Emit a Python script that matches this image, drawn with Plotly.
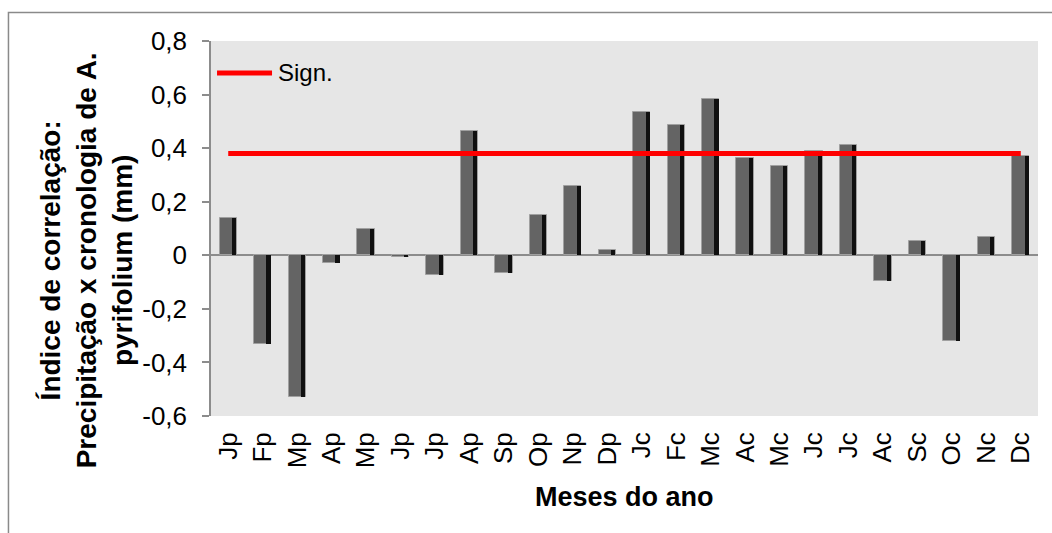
import plotly.graph_objects as go

# Monthly correlation (precipitation x A. pyrifolium chronology);
# "p" = previous year, "c" = current year
months = ["Jp", "Fp", "Mp", "Ap", "Mp", "Jp", "Jp", "Ap", "Sp", "Op", "Np", "Dp",
          "Jc", "Fc", "Mc", "Ac", "Mc", "Jc", "Jc", "Ac", "Sc", "Oc", "Nc", "Dc"]
correlation = [0.14, -0.33, -0.53, -0.03, 0.10, -0.005, -0.075, 0.465, -0.065, 0.15, 0.26, 0.02,
               0.535, 0.485, 0.585, 0.365, 0.335, 0.39, 0.41, -0.095, 0.055, -0.32, 0.07, 0.37]
sign_level = 0.38
sign_line = [sign_level] * len(months)

y_ticks = [-0.6, -0.4, -0.2, 0, 0.2, 0.4, 0.6, 0.8]
y_tick_text = ["-0,6", "-0,4", "-0,2", "0", "0,2", "0,4", "0,6", "0,8"]

FONT = "Liberation Sans, Arial, sans-serif"
AXIS_GREY = "#8c8c8c"
pos = list(range(len(months)))

fig = go.Figure()

# bar body
fig.add_trace(go.Bar(
    x=pos, y=correlation, width=0.5, offset=-0.25,
    marker=dict(color="#646464", line=dict(color="#a0a0a0", width=1)),
    showlegend=False, hoverinfo="skip",
))
# dark right-hand bevel strip of each bar
fig.add_trace(go.Bar(
    x=pos, y=correlation, width=0.12, offset=0.11,
    marker=dict(color="#101010", line=dict(width=0)),
    showlegend=False, hoverinfo="skip",
))
# significance threshold
fig.add_trace(go.Scatter(
    x=pos, y=sign_line, mode="lines", name="Sign.",
    line=dict(color="#ff0000", width=5),
    showlegend=False, hoverinfo="skip",
))

y_title_lines = ["Índice de correlação:", "Precipitação x cronologia de A.", "pyrifolium (mm)"]

annotations = [
    dict(text="<br>".join(f"<b>{s}</b>" for s in y_title_lines),
         xref="paper", yref="paper", x=-0.150, y=0.415, textangle=-90,
         showarrow=False, xanchor="center", yanchor="middle",
         font=dict(family=FONT, size=28, color="#000000")),
    dict(text="<b>Meses do ano</b>", xref="paper", yref="paper", x=0.5, y=-0.216,
         showarrow=False, xanchor="center", yanchor="middle",
         font=dict(family=FONT, size=27, color="#000000")),
    dict(text="Sign.", xref="paper", yref="paper", x=0.079, y=0.915,
         showarrow=False, xanchor="left", yanchor="middle",
         font=dict(family=FONT, size=24, color="#000000")),
]

shapes = [
    # legend sample line
    dict(type="line", xref="paper", yref="paper", x0=0.0073, x1=0.0738, y0=0.915, y1=0.915,
         line=dict(color="#ff0000", width=5)),
    # chart frame
    dict(type="rect", xref="paper", yref="paper", x0=-0.2449, x1=1.03, y0=-0.34, y1=1.076,
         line=dict(color="#8a8a8a", width=1.5), layer="below"),
]

fig.update_layout(
    width=1052, height=533,
    margin=dict(l=211, r=14, t=41, b=117),
    paper_bgcolor="#ffffff", plot_bgcolor="#e6e6e6",
    barmode="overlay", bargap=0,
    font=dict(family=FONT, color="#000000"),
    annotations=annotations, shapes=shapes,
    xaxis=dict(
        range=[-0.5, len(months) - 0.5], tickvals=pos, ticktext=months,
        tickangle=-90, tickfont=dict(family=FONT, size=26),
        showgrid=False, zeroline=False, showline=False, ticks="",
        ticklabelstandoff=10,
    ),
    yaxis=dict(
        range=[-0.6, 0.8], tickvals=y_ticks, ticktext=y_tick_text,
        tickfont=dict(family=FONT, size=26),
        showgrid=False, zeroline=True, zerolinecolor=AXIS_GREY, zerolinewidth=1.5,
        showline=True, linecolor=AXIS_GREY, linewidth=1.5,
        ticks="outside", ticklen=7, tickcolor=AXIS_GREY, tickwidth=1.5,
        ticklabelstandoff=10,
    ),
)

fig.write_html("out.html")
